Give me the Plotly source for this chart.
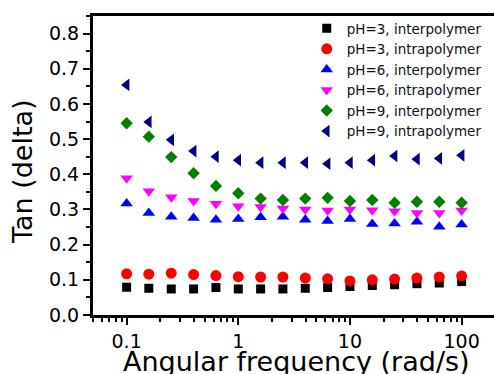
import numpy as np
import plotly.graph_objects as go

# Angular frequency sweep (rad/s), 5 points per decade
freq = [0.1, 0.158, 0.251, 0.398, 0.631, 1.0, 1.585, 2.51, 3.98, 6.31,
        10.0, 15.85, 25.1, 39.8, 63.1, 100.0]

ph3_inter = [0.079, 0.076, 0.074, 0.074, 0.078, 0.074, 0.074, 0.074, 0.076, 0.078,
             0.081, 0.084, 0.086, 0.089, 0.091, 0.095]
ph3_intra = [0.117, 0.116, 0.119, 0.115, 0.112, 0.109, 0.108, 0.108, 0.105, 0.103,
             0.097, 0.100, 0.102, 0.105, 0.108, 0.111]
ph6_inter = [0.317, 0.290, 0.279, 0.276, 0.271, 0.273, 0.278, 0.279, 0.271, 0.267,
             0.273, 0.259, 0.260, 0.265, 0.251, 0.257]
ph6_intra = [0.389, 0.352, 0.335, 0.324, 0.316, 0.309, 0.307, 0.303, 0.300, 0.297,
             0.300, 0.298, 0.295, 0.290, 0.290, 0.297]
ph9_inter = [0.545, 0.507, 0.449, 0.403, 0.367, 0.346, 0.331, 0.327, 0.331, 0.333,
             0.324, 0.327, 0.319, 0.322, 0.322, 0.319]
ph9_intra = [0.654, 0.549, 0.498, 0.466, 0.450, 0.440, 0.433, 0.433, 0.433, 0.430,
             0.433, 0.440, 0.452, 0.443, 0.445, 0.454]

y_ticks = [0.0, 0.1, 0.2, 0.3, 0.4, 0.5, 0.6, 0.7, 0.8]
x_ticks = [0.1, 1, 10, 100]

series = [
    ("pH=3, interpolymer", ph3_inter, "square", "#000000", 9),
    ("pH=3, intrapolymer", ph3_intra, "circle", "#ff0000", 11),
    ("pH=6, interpolymer", ph6_inter, "triangle-up", "#0000ff", 11),
    ("pH=6, intrapolymer", ph6_intra, "triangle-down", "#ff00ff", 11),
    ("pH=9, interpolymer", ph9_inter, "diamond", "#008000", 9.5),
    ("pH=9, intrapolymer", ph9_intra, "triangle-left", "#000080", 11),
]

FONT = "DejaVu Sans, Verdana, sans-serif"

fig = go.Figure()
for name, vals, sym, col, size in series:
    fig.add_trace(go.Scatter(
        x=freq, y=vals, mode="markers", name=name,
        marker=dict(symbol=sym, color=col, size=size, line=dict(width=0)),
    ))

fig.update_layout(
    width=494, height=374,
    margin=dict(l=93, r=0, t=16, b=59, autoexpand=False),
    paper_bgcolor="white", plot_bgcolor="white",
    font=dict(family=FONT, color="black"),
    showlegend=True,
    legend=dict(
        x=0.533, xanchor="left", y=1.01, yanchor="top",
        bgcolor="rgba(0,0,0,0)", borderwidth=0,
        font=dict(family=FONT, size=13.5, color="#111111"),
        itemsizing="trace",
    ),
)

fig.update_xaxes(
    type="log", range=[np.log10(0.05), 2.29],
    showgrid=False, zeroline=False,
    showline=True, linewidth=3, linecolor="black", mirror=True,
    ticks="outside", ticklen=7, tickwidth=2, tickcolor="black",
    tickvals=x_ticks, ticktext=[f"{v:g}" for v in x_ticks],
    tickfont=dict(family=FONT, size=19, color="black"),
    minor=dict(ticks="outside", ticklen=4, tickwidth=1.5, tickcolor="black",
               dtick="D1", showgrid=False),
)

fig.update_yaxes(
    range=[0, 0.85],
    showgrid=False, zeroline=False,
    showline=True, linewidth=3, linecolor="black", mirror=False,
    ticks="outside", ticklen=7, tickwidth=2, tickcolor="black",
    tickvals=y_ticks, ticktext=[f"{v:.1f}" for v in y_ticks],
    tickfont=dict(family=FONT, size=19, color="black"),
    minor=dict(ticks="outside", ticklen=4, tickwidth=1.5, tickcolor="black",
               dtick=0.05, showgrid=False),
)

# Axis titles
fig.add_annotation(
    text="Angular frequency (rad/s)", xref="paper", yref="paper",
    x=0.5075, y=-0.157, xanchor="center", yanchor="middle", showarrow=False,
    font=dict(family=FONT, size=27, color="black"),
)
fig.add_annotation(
    text="Tan (delta)", xref="paper", yref="paper", textangle=-90,
    x=-0.177, y=0.478, xanchor="center", yanchor="middle", showarrow=False,
    font=dict(family=FONT, size=27, color="black"),
)

fig.write_html("out.html")
